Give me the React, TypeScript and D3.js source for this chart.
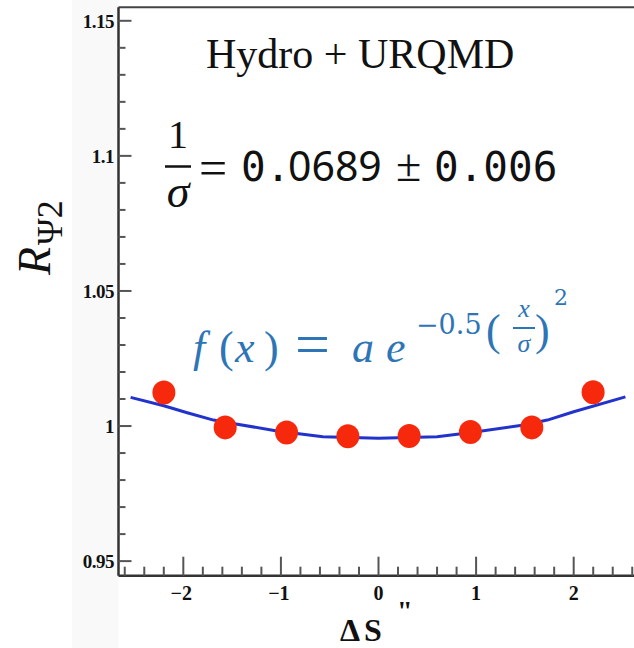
import React from "react";
import * as d3 from "d3";

// bins of Delta S'' and the measured ratio R_Psi2
const binCenters = [-2.199, -1.571, -0.942, -0.314, 0.314, 0.942, 1.571, 2.199];
const ratioValues = [1.0124, 0.9995, 0.9976, 0.9962, 0.9963, 0.9978, 0.9995, 1.0125];

// fitted curve
const fitX = [-2.54, -2.2, -1.96, -1.69, -1.57, -1.04, -0.57, 0, 0.6, 0.95, 1.49, 1.73, 2.0, 2.53];
const fitY = [1.0106, 1.0075, 1.0049, 1.0022, 1.0014, 0.9982, 0.996, 0.9955, 0.996, 0.9976, 1.0004, 1.0022, 1.0053, 1.0108];

const xMajorTicks = [-2, -1, 0, 1, 2];
const xTickLabels = ["−2", "−1", "0", "1", "2"];
const yMajorTicks = [0.95, 1, 1.05, 1.1, 1.15];
const yTickLabels = ["0.95", "1", "1.05", "1.1", "1.15"];

const W = 634;
const H = 648;

export default function App() {
  const x = d3.scaleLinear().domain([-2.66, 2.66]).range([118.9, 638.1]);
  const y = d3.scaleLinear().domain([0.9446, 1.155]).range([575.7, 7.3]);

  const axisX = 118.5;
  const axisY = 575.7;
  const frameTop = 7.3;

  const xMinor = d3.range(-13, 14).map(i => +(i * 0.2).toFixed(1)).filter(v => !xMajorTicks.includes(v));
  const yMinor = d3.range(95, 116).map(i => i / 100).filter(v => !yMajorTicks.some(t => Math.abs(t - v) < 1e-6));

  const fitData = fitX.map((v, i) => [v, fitY[i]] as [number, number]);
  const line = d3.line<[number, number]>()
    .x(d => x(d[0]))
    .y(d => y(d[1]))
    .curve(d3.curveLinear);

  const serif = "'Liberation Serif', 'Times New Roman', serif";
  const mono = "'DejaVu Sans Mono', monospace";
  const blue = "#2e75b6";

  return (
    <svg width={W} height={H} viewBox={`0 0 ${W} ${H}`}
      style={{ position: "absolute", left: 0, top: 0, display: "block", background: "#fff" }}>
      {/* faint grey band left of the axis */}
      <rect x={72} y={0} width={axisX - 72} height={H} fill="#f9f9f9" />

      {/* frame */}
      <line x1={axisX} x2={W} y1={frameTop} y2={frameTop} stroke="#444" strokeWidth={2} />
      <line x1={axisX} x2={axisX} y1={frameTop} y2={axisY} stroke="#333" strokeWidth={2.5} />
      <line x1={axisX} x2={W} y1={axisY} y2={axisY} stroke="#333" strokeWidth={2.5} />

      {/* y ticks */}
      {yMajorTicks.map((v, i) => (
        <g key={"ym" + i}>
          <line x1={axisX} x2={axisX + 13} y1={y(v)} y2={y(v)} stroke="#555" strokeWidth={2} />
          <text x={114} y={y(v) + 7} textAnchor="end" fontFamily={serif} fontWeight="bold"
            fontSize={19} letterSpacing={-0.5} fill="#111">{yTickLabels[i]}</text>
        </g>
      ))}
      {yMinor.map((v, i) => (
        <line key={"yn" + i} x1={axisX} x2={axisX + 7} y1={y(v)} y2={y(v)} stroke="#555" strokeWidth={2} />
      ))}

      {/* x ticks */}
      {xMajorTicks.map((v, i) => (
        <g key={"xm" + i}>
          <line x1={x(v)} x2={x(v)} y1={axisY} y2={axisY - 19} stroke="#555" strokeWidth={2} />
          <text x={x(v) - (v < 0 ? 2 : 0)} y={600} textAnchor="middle" fontFamily={serif}
            fontWeight="bold" fontSize={20} fill="#111">{xTickLabels[i]}</text>
        </g>
      ))}
      {xMinor.map((v, i) => (
        <line key={"xn" + i} x1={x(v)} x2={x(v)} y1={axisY} y2={axisY - 9} stroke="#555" strokeWidth={2} />
      ))}

      {/* axis titles */}
      <text x={340} y={641} fontFamily={serif} fontWeight="bold" fontSize={32} fill="#111">
        Δ<tspan dx={4}>S</tspan>
      </text>
      <text x={397} y={620} fontFamily={serif} fontWeight="bold" fontSize={28} fill="#111">"</text>

      <text transform="translate(50,275) rotate(-90)" fontFamily={serif} fill="#111">
        <tspan fontStyle="italic" fontSize={46}>R</tspan>
        <tspan dy={12} dx={2} fontSize={36}>Ψ2</tspan>
      </text>

      {/* fit curve and points */}
      <path d={line(fitData) || ""} fill="none" stroke="#2233cc" strokeWidth={3} strokeLinejoin="round" />
      {binCenters.map((v, i) => (
        <ellipse key={"p" + i} cx={x(v)} cy={y(ratioValues[i])} rx={11.5} ry={12} fill="#f7290c" />
      ))}

      {/* annotations */}
      <text x={206} y={68} fontFamily={serif} fontSize={42} fill="#111">Hydro + URQMD</text>

      <text x={178} y={148} textAnchor="middle" fontFamily={serif} fontSize={40} fill="#111">1</text>
      <line x1={165} x2={191} y1={166.5} y2={166.5} stroke="#111" strokeWidth={2.5} />
      <text x={178} y={207} textAnchor="middle" fontFamily={serif} fontStyle="italic" fontSize={46} fill="#111">σ</text>
      <text x={199} y={185} fontFamily={serif} fontSize={50} fill="#111">=</text>
      <text x={241} y={181} fontFamily={mono} fontSize={41} fill="#111">0.</text>
      <text x={288} y={181} fontFamily="'Noto Sans', sans-serif" fontSize={41} fill="#111">0689</text>
      <text x={396} y={181} fontFamily={serif} fontSize={46} fill="#111">±</text>
      <text x={434} y={181} fontFamily={mono} fontSize={41} fill="#111">0.006</text>

      <g fill={blue}>
        <text x={193} y={362} fontFamily={serif} fontStyle="italic" fontSize={44}>f</text>
        <text x={219} y={362} fontFamily={serif} fontSize={44}>(</text>
        <text x={235} y={362} fontFamily={serif} fontStyle="italic" fontSize={44}>x</text>
        <text x={264} y={362} fontFamily={serif} fontSize={44}>)</text>
        <text x={295} y={365} fontFamily={serif} fontSize={62}>=</text>
        <text x={352} y={362} fontFamily={serif} fontStyle="italic" fontSize={44}>a</text>
        <text x={386} y={362} fontFamily={serif} fontStyle="italic" fontSize={44}>e</text>
        <text x={416} y={334} fontFamily="'DejaVu Serif', serif" fontSize={27}>−0.5</text>
        <text x={486} y={345} fontFamily={serif} fontSize={44}>(</text>
        <text x={524} y={317} textAnchor="middle" fontFamily={serif} fontStyle="italic" fontSize={26}>x</text>
        <line x1={513} x2={535} y1={328} y2={328} stroke={blue} strokeWidth={2} />
        <text x={524} y={352} textAnchor="middle" fontFamily={serif} fontStyle="italic" fontSize={26}>σ</text>
        <text x={535} y={345} fontFamily={serif} fontSize={44}>)</text>
        <text x={554} y={305} fontFamily="'DejaVu Serif', serif" fontSize={22}>2</text>
      </g>
    </svg>
  );
}
